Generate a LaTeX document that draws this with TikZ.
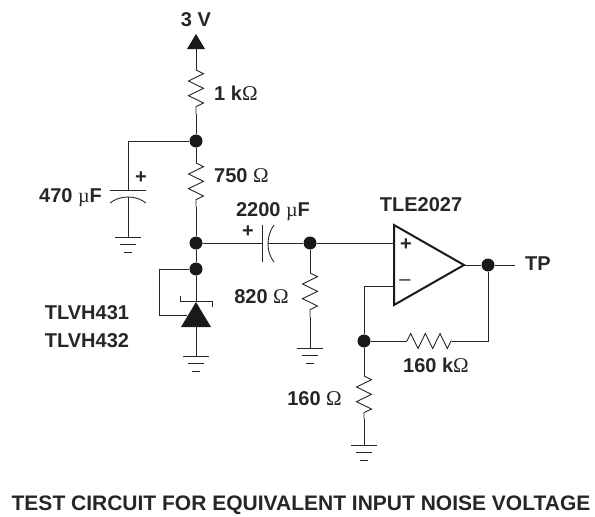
\documentclass[tikz,border=0pt]{standalone}
\usepackage{fontspec}
\setmainfont{Liberation Sans}
\newfontfamily\symfont{Liberation Serif}
\usetikzlibrary{decorations.pathmorphing}

\tikzstyle{wire} = [draw, line width=0.9pt, black!85]
\tikzstyle{res} = [wire, decorate, decoration={zigzag, amplitude=7.5pt, segment length=14.67pt}]
\tikzstyle{dot} = [circle, fill=black!90, inner sep=0pt, minimum size=13pt]
\tikzstyle{lab} = [font=\fontsize{20}{24}\bfseries, text=black!85, inner sep=0pt]
\tikzstyle{sign} = [font=\fontsize{20}{24}\bfseries, text=black!85, inner sep=0pt]
\newcommand{\ohm}{{\symfont\mdseries\fontsize{21}{24}\selectfont Ω}}
\newcommand{\micro}{{\symfont\mdseries\fontsize{20}{24}\selectfont µ}}
% ground symbol at a named coordinate
\newcommand{\gnd}[1]{
	\draw [wire] ([xshift=-13pt]#1) -- ([xshift=13pt]#1);
	\draw [wire] ([xshift=-8pt,yshift=-7.5pt]#1) -- ([xshift=8pt,yshift=-7.5pt]#1);
	\draw [wire] ([xshift=-4pt,yshift=-15pt]#1) -- ([xshift=4pt,yshift=-15pt]#1);
}

\begin{document}
\begin{tikzpicture}[x=1pt, y=-1pt]
	\useasboundingbox (0,0) rectangle (595,517);

	\node [dot] (n1) at (196,141) {};
	\node [dot] (n2) at (196,243) {};
	\node [dot] (n3) at (196,269) {};
	\node [dot] (n4) at (310,243) {};
	\node [dot] (n5) at (488,265) {};
	\node [dot] (n6) at (364,341) {};

	% supply
	\coordinate (vcc) at (196,49);
	\fill [black!90] (196,34) -- (205,49) -- (187,49) -- cycle;
	\coordinate (r1a) at (196,70);
	\coordinate (r1b) at (196,114);
	\draw [wire] (vcc) -- (r1a);
	\draw [res] (r1a) -- (r1b);
	\draw [wire] (r1b) -- (n1);
	\coordinate (r2a) at (196,163);
	\coordinate (r2b) at (196,207);
	\draw [wire] (n1) -- (r2a);
	\draw [res] (r2a) -- (r2b);
	\draw [wire] (r2b) -- (n2);
	\draw [wire] (n2) -- (n3);

	% 470 cap
	\coordinate (c1a) at (128,190);
	\coordinate (c1b) at (128,197);
	\coordinate (g1) at (128,237);
	\draw [wire] (n1) -| (c1a);
	\draw [wire] (110,190) -- (146,190);
	\draw [wire] (110,203) .. controls (120,195) and (136,195) .. (146,203);
	\draw [wire] (c1b) -- (g1);
	\gnd{g1}

	% 2200 cap
	\coordinate (c2a) at (262,243);
	\coordinate (c2b) at (268,243);
	\draw [wire] (n2) -- (c2a);
	\draw [wire] (262,225) -- (262,262);
	\draw [wire] (274,225) .. controls (266,236) and (266,252) .. (274,262);
	\draw [wire] (c2b) -- (n4);

	% shunt regulator
	\coordinate (d1) at (196,302);
	\coordinate (d2) at (196,327);
	\coordinate (g2) at (196,356);
	\coordinate (ref) at (187,315);
	\draw [wire] (n3) -- (d1);
	\fill [black!90] (d1) -- (211,327) -- (181,327) -- cycle;
	\draw [wire] (180,296) -- (180,301) -- (212,301) -- (212,307);
	\draw [wire] (n3) -- (159,269) -- (159,315) -- (ref);
	\draw [wire] (d2) -- (g2);
	\gnd{g2}

	% 820
	\coordinate (r3a) at (310,273);
	\coordinate (r3b) at (310,317);
	\coordinate (g3) at (310,348);
	\draw [wire] (n4) -- (r3a);
	\draw [res] (r3a) -- (r3b);
	\draw [wire] (r3b) -- (g3);
	\gnd{g3}

	% amplifier
	\coordinate (ip) at (394,243);
	\coordinate (im) at (394,286);
	\coordinate (op) at (464,265);
	\coordinate (tp) at (515,265);
	\draw [line width=2pt, black!90, line join=miter] (394,225) -- (op) -- (394,305) -- cycle;
	\draw [wire] (n4) -- (ip);
	\draw [wire] (op) -- (n5);
	\draw [wire] (n5) -- (tp);
	\draw [wire] (im) -- (364,286) -- (n6);

	% feedback
	\coordinate (r4a) at (407,341);
	\coordinate (r4b) at (452,341);
	\draw [wire] (n6) -- (r4a);
	\draw [res] (r4a) -- (r4b);
	\draw [wire] (r4b) -- (488,341) -- (n5);

	% 160
	\coordinate (r5a) at (364,376);
	\coordinate (r5b) at (364,419);
	\coordinate (g4) at (364,445);
	\draw [wire] (n6) -- (r5a);
	\draw [res] (r5a) -- (r5b);
	\draw [wire] (r5b) -- (g4);
	\gnd{g4}

	% labels
	\node [lab] (l3v) at (196,20) {3 V};
	\node [lab, anchor=west] (l1k) at (214,93) {1 k\ohm};
	\node [lab, anchor=west] (l750) at (214,176) {750 \ohm};
	\node [lab, anchor=east] (l470) at (102,198) {470 \micro F};
	\node [sign] (p1) at (141,178) {+};
	\node [lab] (l2200) at (273,212) {2200 \micro F};
	\node [sign] (p2) at (248,232) {+};
	\node [lab, anchor=east] (l820) at (289,297) {820 \ohm};
	\node [lab] (ltle) at (421,205) {TLE2027};
	\node [sign] (p3) at (406,245) {+};
	\node [sign, font=\fontsize{20}{24}\mdseries] (m3) at (405,283) {--};
	\node [lab, anchor=west] (ltp) at (525,264) {TP};
	\node [lab] (l160k) at (436,365) {160 k\ohm};
	\node [lab, anchor=east] (l160) at (342,399) {160 \ohm};
	\node [lab] (ltl1) at (87,313) {TLVH431};
	\node [lab] (ltl2) at (87,341) {TLVH432};
	\node [lab, font=\fontsize{21}{24}\bfseries] (ltitle) at (301,505) {TEST CIRCUIT FOR EQUIVALENT INPUT NOISE VOLTAGE};
\end{tikzpicture}
\end{document}
